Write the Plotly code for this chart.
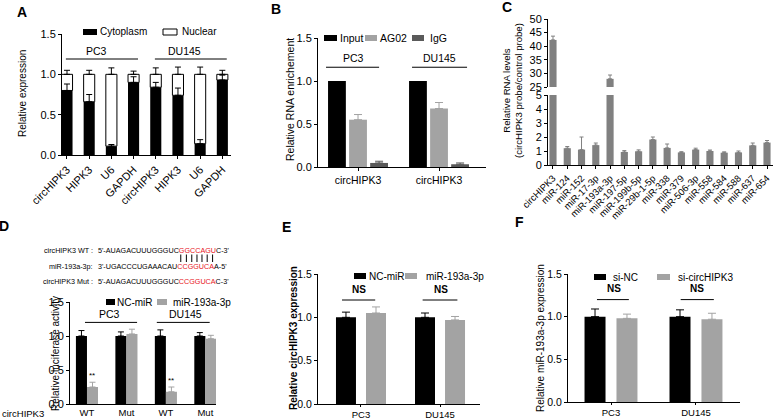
import plotly.graph_objects as go

W, H = 778, 420
FONT = "Arial, 'Liberation Sans', sans-serif"
BLACK = "#000000"
LGRAY = "#a3a3a3"
DGRAY = "#5a5a5a"
CGRAY = "#808080"
RED = "#e8141b"

# ---------------- data ----------------
# Panel A
a_cats = ["circHIPK3", "HIPK3", "U6", "GAPDH", "circHIPK3", "HIPK3", "U6", "GAPDH"]
a_cells = ["PC3", "DU145"]
a_cyto = [0.80, 0.66, 0.11, 0.90, 0.84, 0.74, 0.14, 0.93]
a_cyto_err = [0.08, 0.09, 0.02, 0.07, 0.06, 0.09, 0.05, 0.06]
a_nuc = [0.20, 0.34, 0.89, 0.10, 0.16, 0.26, 0.86, 0.07]
a_nuc_err = [0.05, 0.05, 0.08, 0.04, 0.08, 0.09, 0.09, 0.05]

# Panel B
b_cats = ["circHIPK3", "circHIPK3"]
b_cells = ["PC3", "DU145"]
b_input = [1.0, 1.0]
b_ago2 = [0.55, 0.68]
b_ago2_err = [0.06, 0.07]
b_igg = [0.047, 0.032]
b_igg_err = [0.02, 0.015]

# Panel C
c_cats = ["circHIPK3", "miR-124", "miR-152", "miR-17-3p", "miR-193a-3p", "miR-197-5p",
          "miR-199b-5p", "miR-29b-1-5p", "miR-338", "miR-379", "miR-506-3p", "miR-558",
          "miR-584", "miR-588", "miR-637", "miR-654"]
c_vals = [42.3, 1.2, 1.1, 1.42, 28.0, 0.93, 0.98, 1.82, 1.22, 0.9, 1.1, 1.0, 0.88, 0.9, 1.4, 1.6]
c_err = [1.4, 0.12, 0.9, 0.15, 1.4, 0.1, 0.1, 0.18, 0.28, 0.05, 0.1, 0.07, 0.06, 0.1, 0.17, 0.15]

# Panel D
d_cats = ["WT", "Mut", "WT", "Mut"]
d_cells = ["PC3", "DU145"]
d_nc = [1.0, 1.0, 1.0, 1.0]
d_nc_err = [0.08, 0.06, 0.09, 0.05]
d_mir = [0.25, 1.03, 0.18, 0.96]
d_mir_err = [0.07, 0.07, 0.07, 0.05]
d_sig = ["**", "", "**", ""]
seq_labels = ["circHIPK3 WT :", "miR-193a-3p:", "circHIPK3 Mut :"]
seq_left = ["5'-AUAGACUUUGGGUC", "3'-UGACCCUGAAACAU", "5'-AUAGACUUUGGGUC"]
seq_red = ["GGCCAGU", "CCGGUCA", "CCGGUCA"]
seq_right = ["C-3'", "A-5'", "C-3'"]

# Panel E
e_cats = ["PC3", "DU145"]
e_nc = [1.0, 1.0]
e_nc_err = [0.06, 0.05]
e_mir = [1.05, 0.97]
e_mir_err = [0.07, 0.04]
e_sig = ["NS", "NS"]

# Panel F
f_cats = ["PC3", "DU145"]
f_sinc = [1.0, 1.0]
f_sinc_err = [0.09, 0.08]
f_sic = [0.98, 0.97]
f_sic_err = [0.05, 0.07]
f_sig = ["NS", "NS"]

# ---------------- helpers ----------------
def X(p):
    return p / W


def Y(p):
    return 1 - p / H


fig = go.Figure()
shapes = []
anns = []


def bars(x, y, width, color, xa, ya, base=None, outline=None):
    fig.add_trace(go.Bar(
        x=x, y=y, base=base, width=width,
        marker=dict(color=color, line=dict(color=outline or color, width=1 if outline else 0)),
        xaxis=xa, yaxis=ya, showlegend=False, hoverinfo="skip"))


def errs(x, top, err, color, xa, ya, cap=3):
    fig.add_trace(go.Scatter(
        x=x, y=top, mode="markers", marker=dict(size=1, color=color),
        error_y=dict(type="data", array=err, arrayminus=[0] * len(err), symmetric=False,
                     color=color, thickness=1, width=cap),
        xaxis=xa, yaxis=ya, showlegend=False, hoverinfo="skip", cliponaxis=True))


def ann(text, x, y, xanchor="center", yanchor="middle", size=10, xref="paper", yref="paper",
        bold=False, angle=0, color=BLACK):
    if bold:
        text = "<b>" + text + "</b>"
    anns.append(dict(text=text, x=x, y=y, xref=xref, yref=yref, xanchor=xanchor, yanchor=yanchor,
                     showarrow=False, textangle=angle, borderpad=0,
                     font=dict(size=size, color=color, family=FONT)))


def hline(x0, x1, y, xref, yref, color=BLACK, w=1):
    shapes.append(dict(type="line", x0=x0, x1=x1, y0=y, y1=y, xref=xref, yref=yref,
                       line=dict(color=color, width=w)))


def swatch(px0, px1, pyc, color, outline=None, h=6):
    shapes.append(dict(type="rect", x0=X(px0), x1=X(px1), y0=Y(pyc + h / 2), y1=Y(pyc - h / 2),
                       xref="paper", yref="paper", fillcolor=color,
                       line=dict(color=outline or color, width=1 if outline else 0)))


def ax(**kw):
    d = dict(showline=True, linecolor=BLACK, linewidth=1, ticks="outside", ticklen=3,
             tickcolor=BLACK, tickwidth=1, showgrid=False, zeroline=False, fixedrange=True,
             automargin=False, ticklabeloverflow="allow",
             tickfont=dict(size=10, color=BLACK, family=FONT))
    d.update(kw)
    return d


def tf(s):
    return dict(size=s, family=FONT, color=BLACK)


# ---------------- Panel A ----------------
xa = list(range(len(a_cats)))
bars(xa, a_cyto, 0.5, BLACK, "x", "y")
bars(xa, a_nuc, 0.5, "white", "x", "y", base=a_cyto, outline=BLACK)
errs(xa, a_cyto, a_cyto_err, BLACK, "x", "y")
errs(xa, [c + n for c, n in zip(a_cyto, a_nuc)], a_nuc_err, BLACK, "x", "y")
hline(-0.05, 3.2, 1.19, "x", "y")
hline(3.96, 7.2, 1.19, "x", "y")
ann(a_cells[0], 1.35, 1.2, yanchor="bottom", size=10.5, xref="x", yref="y")
ann(a_cells[1], 5.3, 1.2, yanchor="bottom", size=10.5, xref="x", yref="y")
swatch(83, 97, 32, BLACK)
ann("Cytoplasm", X(99), Y(32), xanchor="left", size=10)
swatch(163, 177, 32, "white", outline=BLACK)
ann("Nuclear", X(181), Y(32), xanchor="left", size=10)
ann("Relative expression", X(23), Y(94), angle=-90, size=10)
ann("A", X(22), Y(12), size=14, bold=True)

# ---------------- Panel B ----------------
xb = list(range(len(b_cats)))
bo, bw = 0.26, 0.22
bars([i - bo for i in xb], b_input, bw, BLACK, "x2", "y2")
bars(xb, b_ago2, bw, LGRAY, "x2", "y2")
bars([i + bo for i in xb], b_igg, bw, DGRAY, "x2", "y2")
errs(xb, b_ago2, b_ago2_err, LGRAY, "x2", "y2", cap=4)
errs([i + bo for i in xb], b_igg, b_igg_err, DGRAY, "x2", "y2", cap=4)
hline(-0.395, 0.26, 1.16, "x2", "y2")
hline(0.667, 1.346, 1.16, "x2", "y2")
ann(b_cells[0], -0.06, 1.19, yanchor="bottom", size=10.5, xref="x2", yref="y2")
ann(b_cells[1], 1.0, 1.19, yanchor="bottom", size=10.5, xref="x2", yref="y2")
swatch(324, 337, 38, BLACK)
ann("Input", X(339), Y(38), xanchor="left", size=10.5)
swatch(365, 377, 38, LGRAY)
ann("AG02", X(379), Y(38), xanchor="left", size=10.5)
swatch(412, 424, 38, DGRAY)
ann("IgG", X(429), Y(38), xanchor="left", size=10.5)
ann("Relative RNA enrichement", X(290), Y(100), angle=-90, size=10.5)
ann("B", X(276), Y(9), size=14, bold=True)

# ---------------- Panel C ----------------
xc = list(range(len(c_cats)))
for yax in ("y3", "y4"):
    bars(xc, c_vals, 0.5, CGRAY, "x3", yax)
    errs(xc, c_vals, c_err, CGRAY, "x3", yax, cap=2)
ann("Relative RNA levels<br>(circHIPK3 probe/control probe)", X(512), Y(90), angle=-90, size=9.6)
ann("C", X(507), Y(7), size=14, bold=True)

# ---------------- Panel D ----------------
xd = list(range(len(d_cats)))
do, dw = 0.14, 0.28
bars([i - do for i in xd], d_nc, dw, BLACK, "x5", "y5")
bars([i + do for i in xd], d_mir, dw, LGRAY, "x5", "y5")
errs([i - do for i in xd], d_nc, d_nc_err, BLACK, "x5", "y5", cap=3)
errs([i + do for i in xd], d_mir, d_mir_err, LGRAY, "x5", "y5", cap=3)
for i, s in enumerate(d_sig):
    if s:
        ann(s, i + do, d_mir[i] + d_mir_err[i] + 0.02, yanchor="bottom", size=8,
            xref="x5", yref="y5")
hline(-0.05, 1.27, 1.2, "x5", "y5")
hline(1.77, 3.11, 1.2, "x5", "y5")
ann(d_cells[0], 0.58, 1.22, yanchor="bottom", size=10.5, xref="x5", yref="y5")
ann(d_cells[1], 2.5, 1.22, yanchor="bottom", size=10.5, xref="x5", yref="y5")
swatch(106, 115, 302, BLACK)
ann("NC-miR", X(116), Y(302), xanchor="left", size=10)
swatch(157, 167, 302, LGRAY)
ann("miR-193a-3p", X(172), Y(302), xanchor="left", size=10)
ann("circHIPK3", X(1), Y(413), xanchor="left", size=9.5)
ann("Relative luciferase activity", X(55), Y(354), angle=-90, size=10)
ann("D", X(4), Y(226), size=14, bold=True)

# sequences
SEQ_FS = 7.2
SEQ_X = 97
seq_y = [250, 266, 281]
for lab, l, r, rt, yy in zip(seq_labels, seq_left, seq_red, seq_right, seq_y):
    ann(lab, X(94), Y(yy), xanchor="right", size=SEQ_FS)
    ann(l + "<span style='color:" + RED + "'>" + r + "</span>" + rt, X(SEQ_X), Y(yy),
        xanchor="left", size=SEQ_FS)
# base-pairing ticks between WT and miR sequences (Arial advance widths, em)
aw = {"A": .667, "C": .722, "G": .778, "U": .722, "5": .556, "3": .556, "'": .191, "-": .333}
start = SEQ_X + SEQ_FS * sum(aw[c] for c in seq_left[0])
acc = start
for ch in seq_red[0]:
    cx = acc + SEQ_FS * aw[ch] / 2
    shapes.append(dict(type="line", x0=X(cx), x1=X(cx), y0=Y(254.5), y1=Y(262),
                       xref="paper", yref="paper", line=dict(color=BLACK, width=1)))
    acc += SEQ_FS * aw[ch]

# ---------------- Panel E ----------------
xe = list(range(len(e_cats)))
eo, ew = 0.19, 0.253
bars([i - eo for i in xe], e_nc, ew, BLACK, "x6", "y6")
bars([i + eo for i in xe], e_mir, ew, LGRAY, "x6", "y6")
errs([i - eo for i in xe], e_nc, e_nc_err, BLACK, "x6", "y6", cap=4)
errs([i + eo for i in xe], e_mir, e_mir_err, LGRAY, "x6", "y6", cap=4)
hline(-0.24, 0.18, 1.2, "x6", "y6")
hline(0.78, 1.22, 1.2, "x6", "y6")
ann(e_sig[0], -0.02, 1.25, yanchor="bottom", size=10, bold=True, xref="x6", yref="y6")
ann(e_sig[1], 1.01, 1.25, yanchor="bottom", size=10, bold=True, xref="x6", yref="y6")
swatch(354, 366, 276, BLACK)
ann("NC-miR", X(368), Y(276), xanchor="left", size=10)
swatch(405, 417, 276, LGRAY)
ann("miR-193a-3p", X(425), Y(276), xanchor="left", size=10)
ann("Relative circHIPK3 expression", X(293), Y(338), angle=-90, size=10, bold=True)
ann("E", X(286), Y(227), size=14, bold=True)

# ---------------- Panel F ----------------
xf = list(range(len(f_cats)))
fo, fw = 0.188, 0.247
bars([i - fo for i in xf], f_sinc, fw, BLACK, "x7", "y7")
bars([i + fo for i in xf], f_sic, fw, LGRAY, "x7", "y7")
errs([i - fo for i in xf], f_sinc, f_sinc_err, BLACK, "x7", "y7", cap=4)
errs([i + fo for i in xf], f_sic, f_sic_err, LGRAY, "x7", "y7", cap=4)
hline(-0.165, 0.21, 1.2, "x7", "y7")
hline(0.82, 1.21, 1.2, "x7", "y7")
ann(f_sig[0], 0.03, 1.25, yanchor="bottom", size=10, bold=True, xref="x7", yref="y7")
ann(f_sig[1], 1.01, 1.25, yanchor="bottom", size=10, bold=True, xref="x7", yref="y7")
swatch(594, 606, 277, BLACK)
ann("si-NC", X(612), Y(277), xanchor="left", size=10)
swatch(657, 670, 277, LGRAY)
ann("si-circHIPK3", X(677), Y(277), xanchor="left", size=10)
ann("Relative miR-193a-3p expression", X(540), Y(338), angle=-90, size=10)
ann("F", X(519), Y(222), size=14, bold=True)

# ---------------- layout ----------------
y15 = dict(tickvals=[0, 0.5, 1.0, 1.5], tickformat=".1f", range=[0, 1.5])
lay = dict(
    width=W, height=H, margin=dict(l=0, r=0, t=0, b=0, autoexpand=False),
    paper_bgcolor="white", plot_bgcolor="white", barmode="overlay",
    font=dict(family=FONT, color=BLACK), showlegend=False,
    xaxis=ax(domain=[X(62), X(231)], range=[-0.225, 7.39], anchor="y",
             tickvals=xa, ticktext=a_cats, tickangle=-45, tickfont=tf(11)),
    yaxis=ax(domain=[Y(155), Y(34)], anchor="x", tickfont=tf(11), **y15),
    xaxis2=ax(domain=[X(318), X(486)], range=[-0.494, 1.58], anchor="y2",
              tickvals=xb, ticktext=b_cats, tickfont=tf(10.5)),
    yaxis2=ax(domain=[Y(167), Y(38)], anchor="x2", tickfont=tf(11), **y15),
    xaxis3=ax(domain=[X(548), X(773)], range=[-0.35, 15.42], anchor="y3",
              tickvals=xc, ticktext=c_cats, tickangle=-45, tickfont=tf(9.5)),
    yaxis3=ax(domain=[Y(165), Y(95)], anchor="x3", range=[0, 5], tickvals=[0, 1, 2, 3, 4, 5],
              tickfont=tf(11)),
    yaxis4=ax(domain=[Y(87), Y(19)], anchor="x3", range=[25, 50],
              tickvals=[25, 30, 35, 40, 45, 50], tickfont=tf(11)),
    xaxis5=ax(domain=[X(70), X(216)], range=[-0.43, 3.27], anchor="y5",
              tickvals=xd, ticktext=d_cats, ticks="", tickfont=tf(9.5)),
    yaxis5=ax(domain=[Y(404), Y(302)], anchor="x5", tickfont=tf(11), **y15),
    xaxis6=ax(domain=[X(318), X(480)], range=[-0.544, 1.506], anchor="y6", ticklen=2,
              tickvals=xe, ticktext=e_cats, tickfont=tf(9.5)),
    yaxis6=ax(domain=[Y(404), Y(274)], anchor="x6", tickfont=tf(10.5), **y15),
    xaxis7=ax(domain=[X(568), X(740)], range=[-0.506, 1.518], anchor="y7", ticklen=2,
              tickvals=xf, ticktext=f_cats, tickfont=tf(9.5)),
    yaxis7=ax(domain=[Y(402), Y(274)], anchor="x7", tickfont=tf(10.5), **y15),
    shapes=shapes, annotations=anns,
)
fig.update_layout(**lay)
fig.write_html("out.html", config={"displayModeBar": False},
               post_script="document.body.style.margin='0';document.body.style.overflow='hidden';")
